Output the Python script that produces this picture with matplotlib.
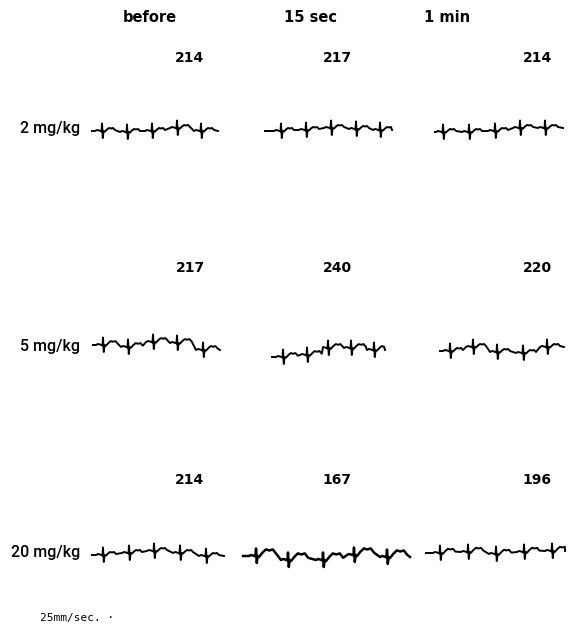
import matplotlib
matplotlib.use("Agg")
import matplotlib.pyplot as plt

# column headers and row labels
columns = ["before", "15 sec", "1 min"]
column_x = [150, 310, 447]
doses = ["2 mg/kg", "5 mg/kg", "20 mg/kg"]
dose_y = [128, 346, 553]

# heart rates per dose (rows) and time point (columns)
rates = [[214, 217, 214],
         [217, 240, 220],
         [214, 167, 196]]
rate_x = [190, 337, 537]
rate_y = [58, 268, 480]

# one ECG complex: x offset from R, y offset from baseline (down +)
beat_dx = [-7, -5, -3, -1.5, -0.5, 0, 0.8, 1.6, 3, 5, 7, 9, 11, 13]
beat_dy = [0, -1, -0.5, 0, 0.5, -7.5, 7, 0, 0.5, -1.5, -3, -2.5, -3, -1]

# strips: start, end, R-peak positions, baseline at each beat, T-wave scale
strips = {
    (0, 0): dict(start=92, end=218, beats=[102, 127, 152, 177, 201], base=[131, 132, 131, 128, 131], t=1.0),
    (0, 1): dict(start=265, end=392, beats=[281, 306, 331, 356, 380], base=[131, 130, 128, 129, 130], t=1.0),
    (0, 2): dict(start=435, end=563, beats=[443, 469, 495, 520, 545], base=[132, 132, 131, 128, 128], t=1.0),
    (1, 0): dict(start=93, end=220, beats=[103, 128, 153, 177, 203], base=[345, 347, 342, 343, 350], t=1.3),
    (1, 1): dict(start=272, end=385, beats=[283, 307, 328, 351, 374], base=[357, 355, 348, 348, 350], t=1.3),
    (1, 2): dict(start=440, end=564, beats=[450, 473, 497, 523, 547], base=[351, 347, 352, 353, 347], t=1.0),
    (2, 0): dict(start=92, end=224, beats=[103, 129, 154, 180, 206], base=[555, 553, 551, 553, 556], t=1.0),
    (2, 1): dict(start=243, end=410, beats=[256, 288, 323, 354, 387], base=[556, 560, 560, 555, 557], t=2.2),
    (2, 2): dict(start=426, end=565, beats=[440, 468, 496, 524, 552], base=[553, 552, 554, 552, 551], t=1.4),
}


def build_trace(s):
    xs = [s["start"]]
    ys = [s["base"][0]]
    for r, b in zip(s["beats"], s["base"]):
        for dx, dy in zip(beat_dx, beat_dy):
            if dx >= 3:
                dx = 3 + (dx - 3) * (1 + (s["t"] - 1) * 0.6)
                dy = dy * s["t"]
            if xs[-1] < r + dx < s["end"]:
                xs.append(r + dx)
                ys.append(b + dy)
    xs.append(s["end"])
    ys.append(s["base"][-1])
    return xs, ys


fig = plt.figure(figsize=(5.72, 6.30), dpi=100)
ax = fig.add_axes([0, 0, 1, 1])
ax.set_xlim(0, 572)
ax.set_ylim(630, 0)
ax.axis("off")

for name, x in zip(columns, column_x):
    ax.text(x, 17, name, ha="center", va="center", fontsize=10.5, fontweight="bold")

for label, y in zip(doses, dose_y):
    ax.text(80, y, label, ha="right", va="center", fontsize=11.5, family="Roboto", fontweight="medium")

for i in range(3):
    for j in range(3):
        ax.text(rate_x[j], rate_y[i], str(rates[i][j]), ha="center", va="center",
                fontsize=10, fontweight="bold")

for (i, j), s in strips.items():
    xs, ys = build_trace(s)
    lw = 1.8 if s["t"] > 2 else 1.4
    ax.plot(xs, ys, color="black", lw=lw, solid_joinstyle="round")

ax.text(40, 618, "25mm/sec. \u00b7", ha="left", va="center", fontsize=8, family="DejaVu Sans Mono")

fig.savefig("out.png", dpi=100)
